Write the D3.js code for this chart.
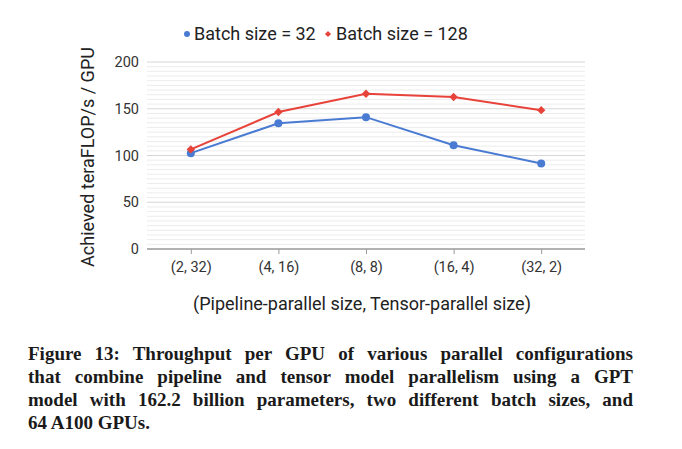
<!DOCTYPE html>
<html><head><meta charset="utf-8">
<script src="https://cdn.jsdelivr.net/npm/d3@7"></script>
<style>
body{margin:0;background:#fff;}
svg{display:block;}
</style></head>
<body>
<svg id="c" width="682" height="449"></svg>
<script>
const categories = ["(2, 32)", "(4, 16)", "(8, 8)", "(16, 4)", "(32, 2)"];
const batch32 = [102.5, 134.5, 141, 111, 91.5];
const batch128 = [106.5, 146.5, 166, 162.5, 148.5];
const seriesNames = ["Batch size = 32", "Batch size = 128"];
const yTicks = [0, 50, 100, 150, 200];
const captionLines = [
  "Figure 13: Throughput per GPU of various parallel configurations",
  "that combine pipeline and tensor model parallelism using a GPT",
  "model with 162.2 billion parameters, two different batch sizes, and",
  "64 A100 GPUs."
];

(function(){
const svg = d3.select("#c");
const pL = 147, pR = 585, pT = 62, pB = 249;
const x = d3.scalePoint().domain(categories).range([pL, pR]).padding(0.5);
const y = d3.scaleLinear().domain([0, 200]).range([pB, pT]);
const font = "Roboto, 'Liberation Sans', sans-serif";
const blue = "#4a7bd3", red = "#e8433b";

const g = svg.append("g");
g.selectAll("line.minor").data(d3.range(5, 200, 5).filter(v => v % 50 !== 0)).enter()
  .append("line").attr("x1", pL).attr("x2", pR)
  .attr("y1", d => y(d)).attr("y2", d => y(d))
  .attr("stroke", "#ececec").attr("stroke-width", 1);
g.selectAll("line.major").data(yTicks.filter(v => v > 0)).enter()
  .append("line").attr("x1", pL).attr("x2", pR)
  .attr("y1", d => y(d)).attr("y2", d => y(d))
  .attr("stroke", "#d6d6d6").attr("stroke-width", 1);

const ya = svg.append("g").attr("transform", `translate(${pL},0)`)
  .call(d3.axisLeft(y).tickValues(yTicks).tickSize(0).tickPadding(8));
ya.select(".domain").remove();
ya.selectAll("text").attr("font-family", font).attr("font-size", 14.5).attr("fill", "#333");

const xa = svg.append("g").attr("transform", `translate(0,${pB})`)
  .call(d3.axisBottom(x).tickSize(5).tickSizeOuter(0).tickPadding(8));
xa.select(".domain").attr("stroke", "#999").attr("stroke-width", 1.3).attr("d", `M${pL},0H${pR}`);
xa.selectAll(".tick line").attr("stroke", "#999");
xa.selectAll("text").attr("font-family", font).attr("font-size", 14.5).attr("fill", "#333");

const line = d3.line().x((d, i) => x(categories[i])).y(d => y(d));
svg.append("path").datum(batch32).attr("d", line).attr("fill", "none").attr("stroke", blue).attr("stroke-width", 2);
svg.append("path").datum(batch128).attr("d", line).attr("fill", "none").attr("stroke", red).attr("stroke-width", 2);
svg.selectAll("circle.p").data(batch32).enter().append("circle")
  .attr("cx", (d, i) => x(categories[i])).attr("cy", d => y(d)).attr("r", 4).attr("fill", blue);
const diamond = d3.symbol().type(d3.symbolDiamond2).size(45);
svg.selectAll("path.d").data(batch128).enter().append("path")
  .attr("d", diamond).attr("transform", (d, i) => `translate(${x(categories[i])},${y(d)})`).attr("fill", red);

svg.append("text").attr("transform", "translate(94,157) rotate(-90)").attr("text-anchor", "middle")
  .attr("font-family", font).attr("font-size", 18).attr("fill", "#222").text("Achieved teraFLOP/s / GPU");
svg.append("text").attr("x", 362).attr("y", 310).attr("text-anchor", "middle")
  .attr("font-family", font).attr("font-size", 18).attr("fill", "#222").text("(Pipeline-parallel size, Tensor-parallel size)");

const leg = svg.append("g");
leg.append("circle").attr("cx", 187).attr("cy", 34).attr("r", 3).attr("fill", blue);
leg.append("text").attr("x", 194).attr("y", 40).attr("font-family", font).attr("font-size", 18).attr("fill", "#222").text(seriesNames[0]);
leg.append("path").attr("d", d3.symbol().type(d3.symbolDiamond2).size(24)).attr("transform", "translate(328,34)").attr("fill", red);
leg.append("text").attr("x", 336).attr("y", 40).attr("font-family", font).attr("font-size", 18).attr("fill", "#222").text(seriesNames[1]);

const capX0 = 28, capX1 = 633;
const capY = [359.5, 382.5, 405.5, 428.5];
const capFont = "'Liberation Serif', 'DejaVu Serif', serif";
const probe = svg.append("text").attr("font-family", capFont).attr("font-weight", "bold")
  .attr("font-size", 17).text(captionLines[0]);
const w0 = probe.node().getComputedTextLength();
probe.remove();
const capSize = Math.min(19, 17 * (capX1 - capX0) / w0 * 0.97);
captionLines.forEach((t, i) => {
  const txt = svg.append("text").attr("x", capX0).attr("y", capY[i])
    .attr("font-family", capFont).attr("font-weight", "bold")
    .attr("font-size", capSize).attr("fill", "#1a1a1a").text(t);
  if (i < captionLines.length - 1) {
    const w = txt.node().getComputedTextLength();
    const spaces = (t.match(/ /g) || []).length;
    txt.attr("word-spacing", Math.max(0, (capX1 - capX0 - w) / spaces));
  }
});
})();
</script>
</body></html>
